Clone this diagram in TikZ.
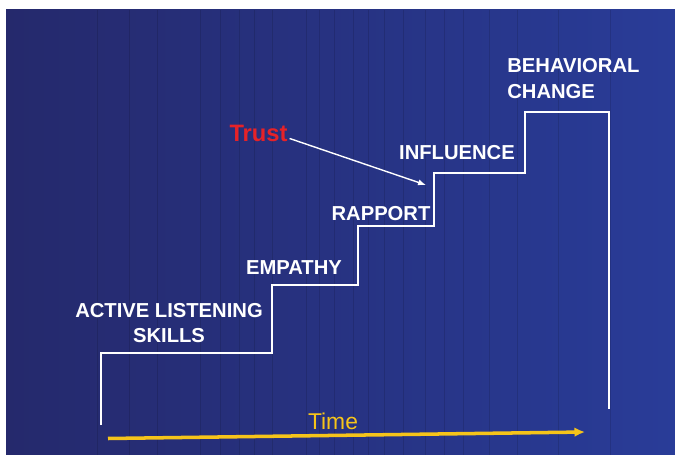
\documentclass[tikz,border=0pt]{standalone}
\usepackage{fontspec}
\setmainfont{Liberation Sans}
\usetikzlibrary{arrows.meta}

\definecolor{navyleft}{RGB}{37,41,108}
\definecolor{navyright}{RGB}{41,60,152}
\definecolor{trustred}{RGB}{230,34,40}
\definecolor{timegold}{RGB}{246,196,26}

\tikzset{
  steplabel/.style={text=white, font=\fontsize{11.5}{14.5}\selectfont\bfseries, inner sep=0pt},
  stair/.style={white, line width=1.2pt},
}

\begin{document}
\begin{tikzpicture}[x=0.02cm, y=-0.02cm]
    \useasboundingbox (0,0) rectangle (675,455);
    \fill[white] (0,0) rectangle (675,455);
    \shade[left color=navyleft, right color=navyright] (6,10) rectangle (675,455);

    % faint vertical stripes
    \foreach \x in {97,129,157,200,220,239,254,272,306,319,334,353,368,384,403,425,444,463,489,517,558,610}
        \draw[black, opacity=0.12, line width=0.5pt] (\x,10) -- (\x,455);

    % the stairs
    \draw[stair] (101,425) |- (272,353) |- (358,285) |- (434,226) |- (525,173) |- (609,112) -- (609,409);

    \node[steplabel, align=center] (listening) at (169,323) {ACTIVE LISTENING\\SKILLS};
    \node[steplabel] (empathy) at (294,268) {EMPATHY};
    \node[steplabel] (rapport) at (381,214) {RAPPORT};
    \node[steplabel] (influence) at (457,152.5) {INFLUENCE};
    \node[steplabel, align=left, anchor=west] (behavior) at (507,78.5) {BEHAVIORAL\\CHANGE};

    \node[text=trustred, font=\fontsize{13.5}{16}\selectfont\bfseries, inner sep=1pt] (trust) at (258.5,133) {Trust};
    \coordinate (trusttip) at (426,185);
    \draw[white, line width=0.8pt, -{Latex[length=4.5pt,width=3.5pt]}] (trust.-10) -- (trusttip);

    % time axis
    \coordinate (timestart) at (108,438.5);
    \coordinate (timeend) at (585,432);
    \draw[timegold, line width=2pt, -{Latex[length=6pt,width=5.5pt]}] (timestart) -- (timeend);
    \node[text=timegold, font=\fontsize{13}{15}\selectfont, inner sep=0pt] (time) at (333,421.5) {Time};
\end{tikzpicture}
\end{document}
